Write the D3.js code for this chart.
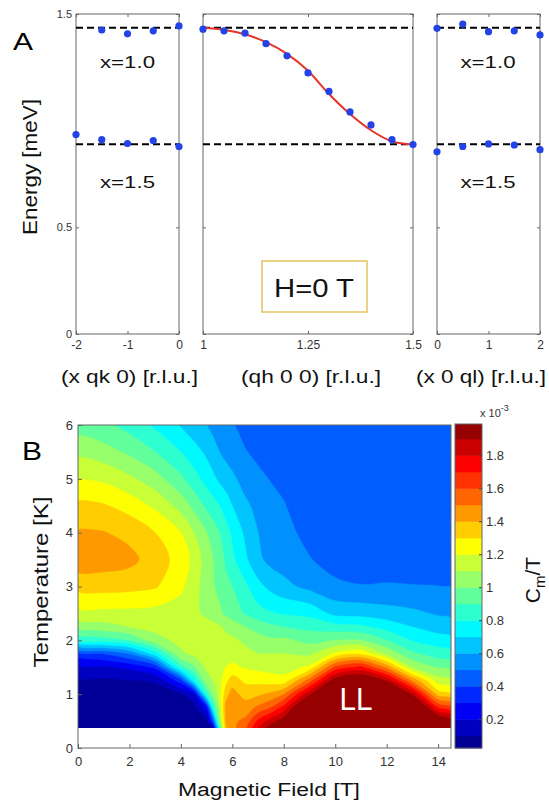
<!DOCTYPE html>
<html>
<head>
<meta charset="utf-8">
<script src="https://cdn.jsdelivr.net/npm/d3@7"></script>
<style>
  body { margin: 0; background: #fff; }
  svg { display: block; font-family: "Liberation Sans", Arial, sans-serif; }
</style>
</head>
<body>
<div id="chart"></div>
<script>
// --------------------------------------
//  Data, panel A (energies in meV)
// --------------------------------------

const dashLevels = [1.435, 0.89];

const qk = [-2, -1.5, -1, -0.5, 0];
const qkTop = [null, 1.425, 1.407, 1.421, 1.444];
const qkBottom = [0.935, 0.911, 0.893, 0.907, 0.879];

const qh = [1, 1.05, 1.1, 1.15, 1.2, 1.25, 1.3, 1.35, 1.4, 1.45, 1.5];
const qhPoints = [1.429, 1.421, 1.41, 1.361, 1.304, 1.224, 1.137, 1.041, 0.98, 0.911, 0.888];
const qhFit = [1.435, 1.425, 1.405, 1.368, 1.313, 1.234, 1.125, 1.031, 0.955, 0.903, 0.888];

const ql = [0, 0.5, 1, 1.5, 2];
const qlTop = [1.433, 1.453, 1.417, 1.421, 1.402];
const qlBottom = [0.854, 0.879, 0.891, 0.886, 0.864];

// --------------------------------------
//  Data, panel B (Cm/T in units of 1e-3)
// --------------------------------------

const fields = [0, 1, 2, 3, 4, 4.5, 5, 5.25, 5.5, 5.75, 6, 6.5, 7, 7.5, 8, 9, 10, 11, 12, 13, 14, 14.5];
const temps = [0.37, 0.5, 0.75, 1.0, 1.25, 1.5, 1.75, 2.0, 2.25, 2.5, 3.0, 3.5, 4.0, 4.5, 5.0, 5.5, 6.0];

// one row per temperature, one value per field
const cmT = [
  [0.05, 0.05, 0.05, 0.05, 0.05, 0.05, 0.05, 0.09, 0.8, 1.38, 1.47, 1.56, 1.8, 1.95, 2.1, 2.2, 2.2, 2.2, 2.2, 2.2, 2.2, 2.1],
  [0.05, 0.05, 0.05, 0.05, 0.05, 0.05, 0.07, 0.4, 1.0, 1.41, 1.48, 1.52, 1.72, 1.85, 1.96, 2.2, 2.2, 2.2, 2.2, 2.2, 2.05, 1.95],
  [0.05, 0.05, 0.05, 0.05, 0.06, 0.07, 0.25, 0.8, 1.1, 1.43, 1.47, 1.45, 1.52, 1.6, 1.74, 2.2, 2.2, 2.2, 2.2, 2.2, 1.7, 1.62],
  [0.06, 0.06, 0.06, 0.07, 0.09, 0.16, 0.85, 1.02, 1.15, 1.36, 1.44, 1.36, 1.38, 1.42, 1.5, 1.88, 2.2, 2.2, 2.2, 1.88, 1.35, 1.3],
  [0.08, 0.08, 0.09, 0.105, 0.35, 0.75, 1.05, 1.1, 1.16, 1.27, 1.35, 1.28, 1.27, 1.25, 1.24, 1.55, 1.98, 2.05, 1.89, 1.48, 1.15, 1.12],
  [0.17, 0.18, 0.22, 0.32, 0.85, 0.98, 1.12, 1.14, 1.16, 1.2, 1.22, 1.19, 1.17, 1.16, 1.15, 1.22, 1.62, 1.72, 1.47, 1.09, 0.99, 0.97],
  [0.34, 0.4, 0.5, 0.75, 1.08, 1.12, 1.15, 1.15, 1.15, 1.16, 1.16, 1.13, 1.1, 1.1, 1.1, 1.08, 1.22, 1.28, 1.08, 0.92, 0.85, 0.83],
  [0.8, 0.85, 0.9, 1.06, 1.13, 1.14, 1.15, 1.15, 1.15, 1.13, 1.12, 1.08, 1.04, 1.02, 1.02, 0.97, 1.0, 1.0, 0.9, 0.79, 0.75, 0.73],
  [1.03, 1.06, 1.1, 1.13, 1.15, 1.15, 1.14, 1.13, 1.11, 1.08, 1.05, 1.0, 0.96, 0.92, 0.9, 0.87, 0.84, 0.82, 0.76, 0.7, 0.65, 0.64],
  [1.17, 1.17, 1.17, 1.16, 1.15, 1.12, 1.08, 1.05, 1.02, 0.98, 0.95, 0.89, 0.84, 0.81, 0.79, 0.77, 0.67, 0.66, 0.64, 0.62, 0.59, 0.58],
  [1.33, 1.34, 1.33, 1.31, 1.22, 1.14, 1.05, 1.01, 0.97, 0.93, 0.9, 0.82, 0.73, 0.67, 0.63, 0.57, 0.52, 0.505, 0.51, 0.505, 0.502, 0.498],
  [1.46, 1.45, 1.43, 1.35, 1.26, 1.17, 1.05, 1.0, 0.95, 0.88, 0.82, 0.72, 0.62, 0.57, 0.55, 0.505, 0.46, 0.44, 0.44, 0.44, 0.44, 0.44],
  [1.41, 1.405, 1.37, 1.3, 1.2, 1.1, 1.0, 0.95, 0.9, 0.84, 0.78, 0.68, 0.6, 0.56, 0.53, 0.47, 0.44, 0.44, 0.44, 0.44, 0.44, 0.44],
  [1.32, 1.31, 1.26, 1.18, 1.06, 0.97, 0.88, 0.84, 0.8, 0.75, 0.7, 0.62, 0.57, 0.53, 0.505, 0.45, 0.44, 0.44, 0.44, 0.44, 0.44, 0.44],
  [1.2, 1.18, 1.12, 1.04, 0.92, 0.84, 0.76, 0.72, 0.68, 0.65, 0.62, 0.56, 0.52, 0.495, 0.48, 0.44, 0.44, 0.44, 0.44, 0.44, 0.44, 0.44],
  [1.07, 1.04, 0.98, 0.9, 0.8, 0.74, 0.68, 0.64, 0.6, 0.57, 0.55, 0.505, 0.48, 0.47, 0.46, 0.44, 0.44, 0.44, 0.44, 0.44, 0.44, 0.44],
  [0.95, 0.92, 0.86, 0.78, 0.69, 0.64, 0.6, 0.57, 0.55, 0.52, 0.505, 0.47, 0.45, 0.45, 0.44, 0.44, 0.44, 0.44, 0.44, 0.44, 0.44, 0.44]
];

const levels = d3.range(1, 20).map(i => i / 10);   // 0.1 ... 1.9
const colorLimits = [0.025, 1.99];
const colorbarTicks = [0.2, 0.4, 0.6, 0.8, 1, 1.2, 1.4, 1.6, 1.8];

// --------------------------------------
//  Canvas
// --------------------------------------

const width = 549;
const height = 805;

const svg = d3.select("#chart")
  .append("svg")
    .attr("width", width)
    .attr("height", height);

const axisGrey = "#666";
const tickText = "#333";

// jet colormap like MATLAB
function jet(t) {
  const c = v => Math.round(255 * Math.max(0, Math.min(1, v)));
  return `rgb(${c(Math.min(4 * t - 1.5, -4 * t + 4.5))},${c(Math.min(4 * t - 0.5, -4 * t + 3.5))},${c(Math.min(4 * t + 0.5, -4 * t + 2.5))})`;
}
const bandColor = (lo, hi) => jet(((lo + hi) / 2 - colorLimits[0]) / (colorLimits[1] - colorLimits[0]));

// --------------------------------------
//  Panel A
// --------------------------------------

const yA = d3.scaleLinear().domain([0, 1.5]).range([334, 14]);

const subplots = [
  {x: d3.scaleLinear().domain([-2, 0]).range([76, 179]), ticks: [-2, -1, 0], label: "(x qk 0) [r.l.u.]", lx: 129.5, lw: 137},
  {x: d3.scaleLinear().domain([1, 1.5]).range([203, 413]), ticks: [1, 1.25, 1.5], label: "(qh 0 0) [r.l.u.]", lx: 311, lw: 140},
  {x: d3.scaleLinear().domain([0, 2]).range([437, 540]), ticks: [0, 1, 2], label: "(x 0 ql) [r.l.u.]", lx: 481, lw: 130}
];

subplots.forEach((s, i) => {
  const g = svg.append("g");
  const [x0, x1] = s.x.range();

  g.append("rect")
    .attr("x", x0).attr("y", yA(1.5))
    .attr("width", x1 - x0).attr("height", yA(0) - yA(1.5))
    .attr("fill", "none").attr("stroke", axisGrey);

  const bottom = g.append("g")
    .attr("transform", `translate(0, ${yA(0)})`)
    .call(d3.axisBottom(s.x).tickValues(s.ticks).tickSize(-3).tickPadding(6).tickFormat(d => String(d)));
  g.append("g")
    .attr("transform", `translate(0, ${yA(1.5)})`)
    .call(d3.axisTop(s.x).tickValues(s.ticks).tickSize(-3).tickFormat(""));
  g.append("g")
    .attr("transform", `translate(${x0}, 0)`)
    .call(d3.axisLeft(yA).tickValues([0, 0.5, 1.5]).tickSize(-3).tickPadding(4)
      .tickFormat(d => i === 0 ? String(d) : ""));
  g.append("g")
    .attr("transform", `translate(${x1}, 0)`)
    .call(d3.axisRight(yA).tickValues([0, 0.5, 1.5]).tickSize(-3).tickFormat(""));

  g.selectAll(".domain").remove();
  g.selectAll(".tick line").attr("stroke", axisGrey);
  g.selectAll(".tick text").attr("fill", tickText).attr("font-size", 11)
    .attr("font-family", "Liberation Sans, Arial, sans-serif");
  bottom.selectAll(".tick text").attr("font-size", 12);

  // flat dispersion levels
  g.selectAll(".dash")
    .data(dashLevels)
    .join("line")
      .attr("x1", x0).attr("x2", x1)
      .attr("y1", d => yA(d)).attr("y2", d => yA(d))
      .attr("stroke", "#000").attr("stroke-width", 2)
      .attr("stroke-dasharray", "7,4");

  g.append("text")
    .attr("x", s.lx).attr("y", 383)
    .attr("text-anchor", "middle")
    .attr("font-size", 18)
    .attr("textLength", s.lw).attr("lengthAdjust", "spacingAndGlyphs")
    .attr("fill", "#111")
    .text(s.label);
});

const blue = "#2343e6";

function drawPoints(xScale, xs, ys) {
  svg.append("g")
    .selectAll("circle")
    .data(xs.map((d, i) => [d, ys[i]]).filter(d => d[1] != null))
    .join("circle")
      .attr("cx", d => xScale(d[0]))
      .attr("cy", d => yA(d[1]))
      .attr("r", 3.6)
      .attr("fill", blue);
}

// left and right panels: x=1.0 and x=1.5 labels
[[subplots[0], 127.5], [subplots[2], 488]].forEach(([s, cx]) => {
  ["x=1.0", "x=1.5"].forEach((t, k) => {
    svg.append("text")
      .attr("x", cx).attr("y", k === 0 ? 68 : 188)
      .attr("text-anchor", "middle")
      .attr("font-size", 17)
      .attr("textLength", 55).attr("lengthAdjust", "spacingAndGlyphs")
      .attr("fill", "#111")
      .text(t);
  });
});

// fitted dispersion in the middle panel
const fitLine = d3.line()
  .x((d, i) => subplots[1].x(qh[i]))
  .y(d => yA(d))
  .curve(d3.curveMonotoneX);

svg.append("path")
  .attr("d", fitLine(qhFit))
  .attr("fill", "none")
  .attr("stroke", "#e8322a")
  .attr("stroke-width", 2);

drawPoints(subplots[0].x, qk, qkTop);
drawPoints(subplots[0].x, qk, qkBottom);
drawPoints(subplots[1].x, qh, qhPoints);
drawPoints(subplots[2].x, ql, qlTop);
drawPoints(subplots[2].x, ql, qlBottom);

// H=0 T box
svg.append("rect")
  .attr("x", 262).attr("y", 261).attr("width", 105).attr("height", 51)
  .attr("fill", "#fff").attr("stroke", "#e3c45c").attr("stroke-width", 1.5);
svg.append("text")
  .attr("x", 314).attr("y", 297)
  .attr("text-anchor", "middle")
  .attr("font-size", 25)
  .attr("textLength", 80).attr("lengthAdjust", "spacingAndGlyphs")
  .attr("fill", "#111")
  .text("H=0 T");

svg.append("text")
  .attr("x", 13).attr("y", 50)
  .attr("font-size", 24)
  .attr("textLength", 20).attr("lengthAdjust", "spacingAndGlyphs")
  .text("A");

svg.append("text")
  .attr("transform", "translate(37, 167) rotate(-90)")
  .attr("text-anchor", "middle")
  .attr("font-size", 20)
  .attr("textLength", 136).attr("lengthAdjust", "spacingAndGlyphs")
  .attr("fill", "#111")
  .text("Energy [meV]");

// --------------------------------------
//  Panel B: contour map
// --------------------------------------

const xB = d3.scaleLinear().domain([0, 14.5]).range([78, 451]);
const yB = d3.scaleLinear().domain([0, 6]).range([748, 425]);

const nx = fields.length;
const ny = temps.length;

// contour grid coordinates -> field / temperature
const fAt = d3.scaleLinear().domain(fields.map((d, i) => i + 0.5)).range(fields).clamp(true);
const tAt = d3.scaleLinear().domain(temps.map((d, i) => i + 0.5)).range(temps).clamp(true);

const contours = d3.contours()
  .size([nx, ny])
  .thresholds([-1, ...levels])(cmT.flat());

// smooth each ring a little so the bands look like filled contours
const ringLine = d3.line().curve(d3.curveCatmullRomClosed.alpha(0.5));

function contourPath(mp) {
  return mp.coordinates.map(poly => poly.map(ring => {
    const pts = [];
    ring.slice(0, -1).forEach(([x, y]) => {
      const p = [xB(fAt(x)), yB(tAt(y))];
      const q = pts[pts.length - 1];
      if (!q || Math.abs(q[0] - p[0]) + Math.abs(q[1] - p[1]) > 0.05) pts.push(p);
    });
    return pts.length > 2 ? ringLine(pts) : "";
  }).join("")).join("");
}

function fillFor(d) {
  const lo = d.value < 0 ? colorLimits[0] : d.value;
  const hi = Math.min(lo + 0.1, colorLimits[1]);
  return bandColor(lo, hi);
}

svg.append("clipPath").attr("id", "clipB")
  .append("rect")
    .attr("x", xB(0)).attr("y", yB(6))
    .attr("width", xB(14.5) - xB(0)).attr("height", yB(temps[0]) - yB(6));

svg.append("g")
  .attr("clip-path", "url(#clipB)")
  .selectAll("path")
  .data(contours)
  .join("path")
    .attr("d", contourPath)
    .attr("fill-rule", "evenodd")
    .attr("fill", fillFor)
    .attr("stroke", fillFor)
    .attr("stroke-width", 0.5);

svg.append("text")
  .attr("x", 356).attr("y", 710)
  .attr("text-anchor", "middle")
  .attr("font-size", 31)
  .attr("textLength", 33).attr("lengthAdjust", "spacingAndGlyphs")
  .attr("fill", "#fff")
  .text("LL");

// axes of panel B
const axB = svg.append("g");
axB.append("rect")
  .attr("x", xB(0)).attr("y", yB(6))
  .attr("width", xB(14.5) - xB(0)).attr("height", yB(0) - yB(6))
  .attr("fill", "none").attr("stroke", axisGrey);

axB.append("g")
  .attr("transform", `translate(0, ${yB(0)})`)
  .call(d3.axisBottom(xB).tickValues(d3.range(0, 15, 2)).tickSize(-4).tickPadding(9)
    .tickFormat(d3.format("d")));
axB.append("g")
  .attr("transform", `translate(${xB(0)}, 0)`)
  .call(d3.axisLeft(yB).tickValues(d3.range(0, 7)).tickSize(-4).tickPadding(5)
    .tickFormat(d3.format("d")));
axB.selectAll(".domain").remove();
axB.selectAll(".tick line").attr("stroke", axisGrey);
axB.selectAll(".tick text").attr("fill", tickText).attr("font-size", 13)
  .attr("font-family", "Liberation Sans, Arial, sans-serif");

svg.append("text")
  .attr("x", 269).attr("y", 796)
  .attr("text-anchor", "middle")
  .attr("font-size", 18)
  .attr("textLength", 182).attr("lengthAdjust", "spacingAndGlyphs")
  .attr("fill", "#111")
  .text("Magnetic Field [T]");

svg.append("text")
  .attr("transform", "translate(48, 582) rotate(-90)")
  .attr("text-anchor", "middle")
  .attr("font-size", 20)
  .attr("textLength", 171).attr("lengthAdjust", "spacingAndGlyphs")
  .attr("fill", "#111")
  .text("Temperature  [K]");

svg.append("text")
  .attr("x", 22).attr("y", 460)
  .attr("font-size", 26)
  .attr("textLength", 20).attr("lengthAdjust", "spacingAndGlyphs")
  .text("B");

// --------------------------------------
//  Colorbar
// --------------------------------------

const yC = d3.scaleLinear().domain(colorLimits).range([748, 424]);
const bands = [colorLimits[0], ...levels, colorLimits[1]];
const cbX = 455;
const cbW = 27;

svg.append("g")
  .selectAll("rect")
  .data(d3.pairs(bands))
  .join("rect")
    .attr("x", cbX)
    .attr("y", d => yC(d[1]))
    .attr("width", cbW)
    .attr("height", d => yC(d[0]) - yC(d[1]) + 0.5)
    .attr("fill", d => bandColor(d[0], d[1]));

svg.append("rect")
  .attr("x", cbX).attr("y", yC(colorLimits[1]))
  .attr("width", cbW).attr("height", yC(colorLimits[0]) - yC(colorLimits[1]))
  .attr("fill", "none").attr("stroke", axisGrey);

const cbAxis = svg.append("g")
  .attr("transform", `translate(${cbX + cbW}, 0)`)
  .call(d3.axisRight(yC).tickValues(colorbarTicks).tickSize(-3).tickPadding(4)
    .tickFormat(d => String(d)));
cbAxis.select(".domain").remove();
cbAxis.selectAll(".tick line").attr("stroke", "#444");
cbAxis.selectAll(".tick text").attr("fill", tickText).attr("font-size", 13)
  .attr("font-family", "Liberation Sans, Arial, sans-serif");

const expo = svg.append("text")
  .attr("x", 480).attr("y", 417)
  .attr("font-size", 11)
  .attr("fill", tickText);
expo.append("tspan").text("x 10");
expo.append("tspan").attr("dy", -6).attr("font-size", 9).text("-3");

const cmLabel = svg.append("text")
  .attr("transform", "translate(540, 580) rotate(-90)")
  .attr("text-anchor", "middle")
  .attr("font-size", 21)
  .attr("fill", "#111");
cmLabel.append("tspan").text("C");
cmLabel.append("tspan").attr("dy", 5).attr("font-size", 15).text("m");
cmLabel.append("tspan").attr("dy", -5).text("/T");
</script>
</body>
</html>
